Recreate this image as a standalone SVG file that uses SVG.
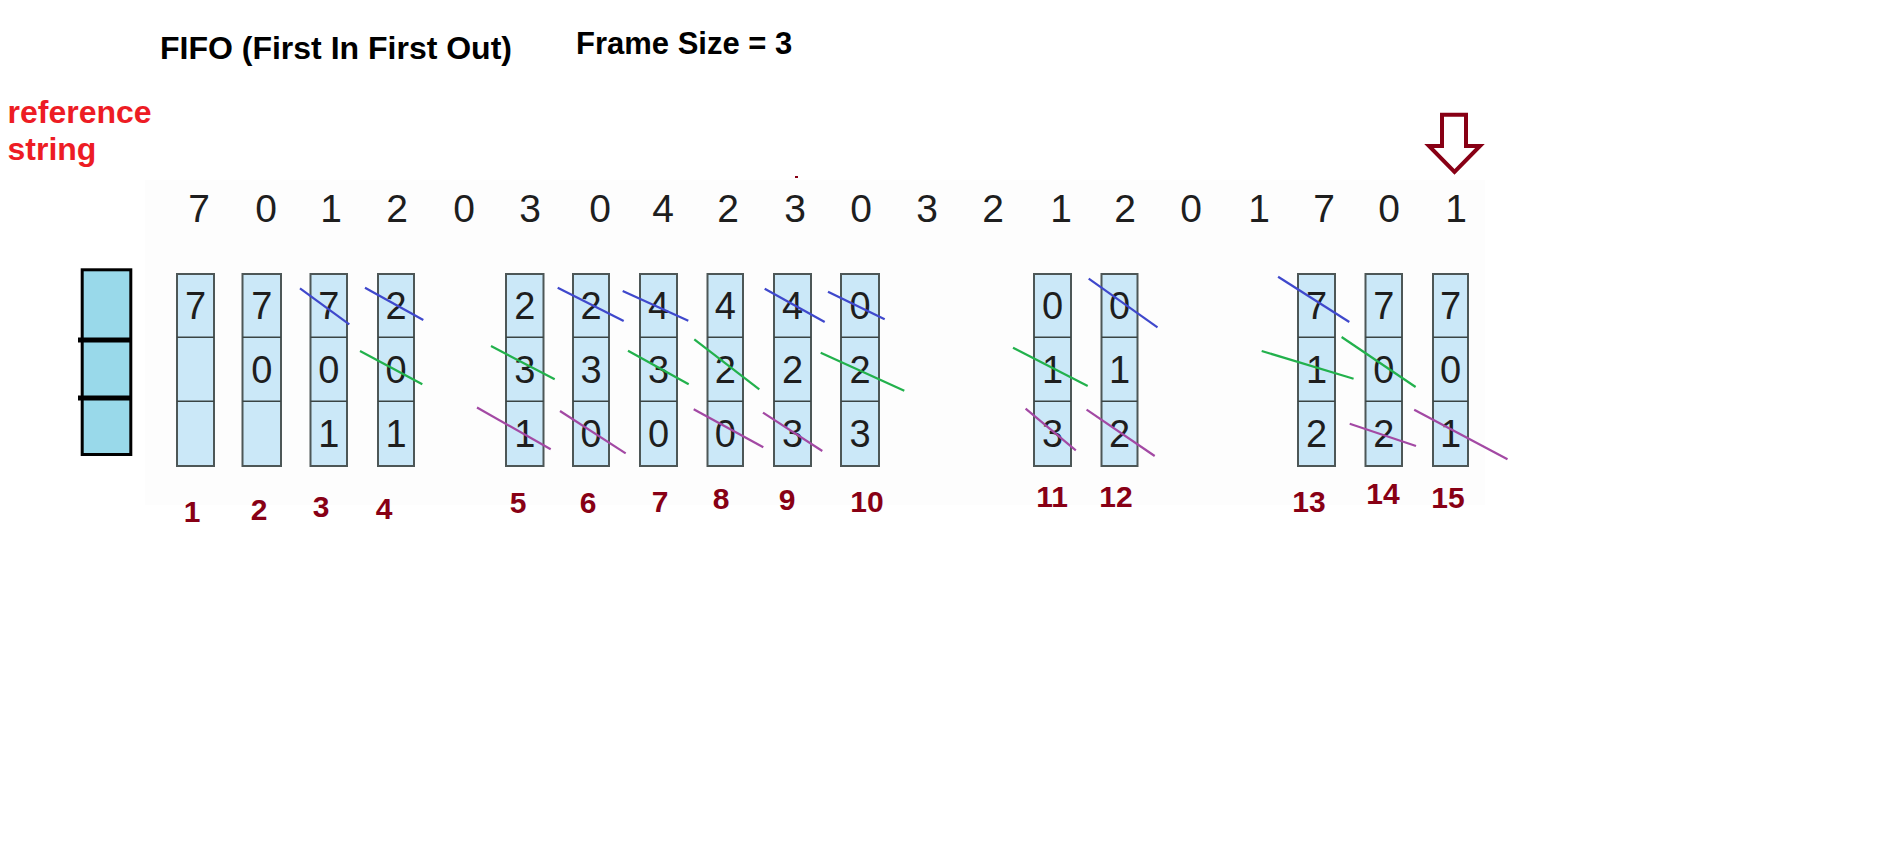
<svg xmlns="http://www.w3.org/2000/svg" width="1894" height="848" viewBox="0 0 1894 848">
<style>
.title{font-family:"Liberation Sans",Arial,sans-serif;font-weight:bold;fill:#000}
.red{font-family:"Liberation Sans",Arial,sans-serif;font-weight:bold;font-size:32px;fill:#ed1c24}
.ref{font-family:"Liberation Sans",Arial,sans-serif;font-size:39px;fill:#1e1e1e;text-anchor:middle}
.cell{fill:#cbe8f8;stroke:#4d5757;stroke-width:2}
.div{stroke:#3a4444;stroke-width:1.5}
.dig{font-family:"Liberation Sans",Arial,sans-serif;font-size:38px;fill:#1e1e1e;text-anchor:middle}
.lbl{font-family:"Liberation Sans",Arial,sans-serif;font-weight:bold;font-size:30px;fill:#880015;text-anchor:middle}
.b{stroke:#3f48cc;stroke-width:2.2;fill:none}
.g{stroke:#22b14c;stroke-width:2.2;fill:none}
.p{stroke:#a349a4;stroke-width:2.2;fill:none}
</style>
<rect width="1894" height="848" fill="#ffffff"/>
<rect x="145" y="180" width="1340" height="325" fill="#fdfdfd"/>
<text class="title" x="160" y="59" font-size="32">FIFO (First In First Out)</text>
<text class="title" x="576" y="54" font-size="31">Frame Size = 3</text>
<text class="red" x="7.5" y="123">reference</text>
<text class="red" x="7.5" y="160">string</text>
<rect x="795" y="176" width="3" height="2" fill="#880015"/>
<g id="arrow">
<path d="M1442,114.7 H1466 V146 H1480 L1454.5,172 L1429,146 H1442 Z" fill="#ffffff" stroke="#880015" stroke-width="4" stroke-linejoin="miter"/>
</g>
<g id="reference-string">
<text class="ref" x="199" y="222">7</text>
<text class="ref" x="266" y="222">0</text>
<text class="ref" x="331" y="222">1</text>
<text class="ref" x="397" y="222">2</text>
<text class="ref" x="464" y="222">0</text>
<text class="ref" x="530" y="222">3</text>
<text class="ref" x="600" y="222">0</text>
<text class="ref" x="663" y="222">4</text>
<text class="ref" x="728" y="222">2</text>
<text class="ref" x="795" y="222">3</text>
<text class="ref" x="861" y="222">0</text>
<text class="ref" x="927" y="222">3</text>
<text class="ref" x="993" y="222">2</text>
<text class="ref" x="1061" y="222">1</text>
<text class="ref" x="1125" y="222">2</text>
<text class="ref" x="1191" y="222">0</text>
<text class="ref" x="1259" y="222">1</text>
<text class="ref" x="1324" y="222">7</text>
<text class="ref" x="1389" y="222">0</text>
<text class="ref" x="1456" y="222">1</text>
</g>
<g id="legend">
<rect x="82.2" y="269.8" width="48.6" height="184.7" fill="#99d9ea" stroke="#000" stroke-width="3"/>
<line x1="78" y1="340" x2="132" y2="340" stroke="#000" stroke-width="5"/>
<line x1="78" y1="398" x2="132" y2="398" stroke="#000" stroke-width="5"/>
</g>
<g id="frame1">
<rect class="cell" x="177" y="274" width="37" height="192"/>
<line class="div" x1="177" y1="337.3" x2="214" y2="337.3"/><line class="div" x1="177" y1="401.3" x2="214" y2="401.3"/>
<text class="dig" x="195.5" y="319">7</text>
<text class="lbl" x="192" y="522">1</text>
</g>
<g id="frame2">
<rect class="cell" x="242.5" y="274" width="38.5" height="192"/>
<line class="div" x1="242.5" y1="337.3" x2="281" y2="337.3"/><line class="div" x1="242.5" y1="401.3" x2="281" y2="401.3"/>
<text class="dig" x="261.7" y="319">7</text>
<text class="dig" x="261.7" y="383">0</text>
<text class="lbl" x="259" y="520">2</text>
</g>
<g id="frame3">
<rect class="cell" x="310.5" y="274" width="36.5" height="192"/>
<line class="div" x1="310.5" y1="337.3" x2="347" y2="337.3"/><line class="div" x1="310.5" y1="401.3" x2="347" y2="401.3"/>
<text class="dig" x="328.7" y="319">7</text>
<text class="dig" x="328.7" y="383">0</text>
<text class="dig" x="328.7" y="447">1</text>
<text class="lbl" x="321" y="517">3</text>
</g>
<g id="frame4">
<rect class="cell" x="378" y="274" width="36" height="192"/>
<line class="div" x1="378" y1="337.3" x2="414" y2="337.3"/><line class="div" x1="378" y1="401.3" x2="414" y2="401.3"/>
<text class="dig" x="396" y="319">2</text>
<text class="dig" x="396" y="383">0</text>
<text class="dig" x="396" y="447">1</text>
<text class="lbl" x="384" y="519">4</text>
</g>
<g id="frame5">
<rect class="cell" x="506" y="274" width="37.5" height="192"/>
<line class="div" x1="506" y1="337.3" x2="543.5" y2="337.3"/><line class="div" x1="506" y1="401.3" x2="543.5" y2="401.3"/>
<text class="dig" x="524.7" y="319">2</text>
<text class="dig" x="524.7" y="383">3</text>
<text class="dig" x="524.7" y="447">1</text>
<text class="lbl" x="518" y="513">5</text>
</g>
<g id="frame6">
<rect class="cell" x="573" y="274" width="36" height="192"/>
<line class="div" x1="573" y1="337.3" x2="609" y2="337.3"/><line class="div" x1="573" y1="401.3" x2="609" y2="401.3"/>
<text class="dig" x="591" y="319">2</text>
<text class="dig" x="591" y="383">3</text>
<text class="dig" x="591" y="447">0</text>
<text class="lbl" x="588" y="513">6</text>
</g>
<g id="frame7">
<rect class="cell" x="640" y="274" width="37" height="192"/>
<line class="div" x1="640" y1="337.3" x2="677" y2="337.3"/><line class="div" x1="640" y1="401.3" x2="677" y2="401.3"/>
<text class="dig" x="658.5" y="319">4</text>
<text class="dig" x="658.5" y="383">3</text>
<text class="dig" x="658.5" y="447">0</text>
<text class="lbl" x="660" y="512">7</text>
</g>
<g id="frame8">
<rect class="cell" x="707.5" y="274" width="35.5" height="192"/>
<line class="div" x1="707.5" y1="337.3" x2="743" y2="337.3"/><line class="div" x1="707.5" y1="401.3" x2="743" y2="401.3"/>
<text class="dig" x="725.3" y="319">4</text>
<text class="dig" x="725.3" y="383">2</text>
<text class="dig" x="725.3" y="447">0</text>
<text class="lbl" x="721" y="509">8</text>
</g>
<g id="frame9">
<rect class="cell" x="774" y="274" width="37" height="192"/>
<line class="div" x1="774" y1="337.3" x2="811" y2="337.3"/><line class="div" x1="774" y1="401.3" x2="811" y2="401.3"/>
<text class="dig" x="792.5" y="319">4</text>
<text class="dig" x="792.5" y="383">2</text>
<text class="dig" x="792.5" y="447">3</text>
<text class="lbl" x="787" y="510">9</text>
</g>
<g id="frame10">
<rect class="cell" x="841" y="274" width="38" height="192"/>
<line class="div" x1="841" y1="337.3" x2="879" y2="337.3"/><line class="div" x1="841" y1="401.3" x2="879" y2="401.3"/>
<text class="dig" x="860" y="319">0</text>
<text class="dig" x="860" y="383">2</text>
<text class="dig" x="860" y="447">3</text>
<text class="lbl" x="867" y="512">10</text>
</g>
<g id="frame11">
<rect class="cell" x="1034" y="274" width="37" height="192"/>
<line class="div" x1="1034" y1="337.3" x2="1071" y2="337.3"/><line class="div" x1="1034" y1="401.3" x2="1071" y2="401.3"/>
<text class="dig" x="1052.5" y="319">0</text>
<text class="dig" x="1052.5" y="383">1</text>
<text class="dig" x="1052.5" y="447">3</text>
<text class="lbl" x="1052" y="507">11</text>
</g>
<g id="frame12">
<rect class="cell" x="1101.5" y="274" width="36" height="192"/>
<line class="div" x1="1101.5" y1="337.3" x2="1137.5" y2="337.3"/><line class="div" x1="1101.5" y1="401.3" x2="1137.5" y2="401.3"/>
<text class="dig" x="1119.5" y="319">0</text>
<text class="dig" x="1119.5" y="383">1</text>
<text class="dig" x="1119.5" y="447">2</text>
<text class="lbl" x="1116" y="507">12</text>
</g>
<g id="frame13">
<rect class="cell" x="1298" y="274" width="37" height="192"/>
<line class="div" x1="1298" y1="337.3" x2="1335" y2="337.3"/><line class="div" x1="1298" y1="401.3" x2="1335" y2="401.3"/>
<text class="dig" x="1316.5" y="319">7</text>
<text class="dig" x="1316.5" y="383">1</text>
<text class="dig" x="1316.5" y="447">2</text>
<text class="lbl" x="1309" y="512">13</text>
</g>
<g id="frame14">
<rect class="cell" x="1365.5" y="274" width="36.5" height="192"/>
<line class="div" x1="1365.5" y1="337.3" x2="1402" y2="337.3"/><line class="div" x1="1365.5" y1="401.3" x2="1402" y2="401.3"/>
<text class="dig" x="1383.7" y="319">7</text>
<text class="dig" x="1383.7" y="383">0</text>
<text class="dig" x="1383.7" y="447">2</text>
<text class="lbl" x="1383" y="504">14</text>
</g>
<g id="frame15">
<rect class="cell" x="1433" y="274" width="35" height="192"/>
<line class="div" x1="1433" y1="337.3" x2="1468" y2="337.3"/><line class="div" x1="1433" y1="401.3" x2="1468" y2="401.3"/>
<text class="dig" x="1450.5" y="319">7</text>
<text class="dig" x="1450.5" y="383">0</text>
<text class="dig" x="1450.5" y="447">1</text>
<text class="lbl" x="1448" y="508">15</text>
</g>
<g id="connectors">
<line class="b" x1="300" y1="288.3" x2="349.3" y2="324.3"/>
<line class="b" x1="365" y1="287.7" x2="423.3" y2="320"/>
<line class="g" x1="360" y1="351" x2="422.3" y2="384.3"/>
<line class="g" x1="491" y1="346" x2="554.7" y2="379.3"/>
<line class="p" x1="477" y1="407.5" x2="550.7" y2="449.3"/>
<line class="b" x1="557.7" y1="287.7" x2="623.7" y2="321"/>
<line class="p" x1="560" y1="411" x2="625.7" y2="453.3"/>
<line class="b" x1="622.7" y1="291" x2="688.3" y2="320.7"/>
<line class="g" x1="628" y1="350.7" x2="688.7" y2="384.3"/>
<line class="g" x1="694.3" y1="339.3" x2="759.3" y2="389.3"/>
<line class="p" x1="693.7" y1="409.3" x2="763.3" y2="447.3"/>
<line class="b" x1="764.7" y1="288.7" x2="824.7" y2="322"/>
<line class="p" x1="763" y1="412.7" x2="822.3" y2="451"/>
<line class="b" x1="828" y1="291.7" x2="884.7" y2="319.3"/>
<line class="g" x1="820.7" y1="352.7" x2="904.3" y2="390.7"/>
<line class="g" x1="1013" y1="347.7" x2="1087.7" y2="386"/>
<line class="p" x1="1025.6" y1="408.7" x2="1075.8" y2="450.3"/>
<line class="b" x1="1088.7" y1="278.7" x2="1157.5" y2="327.3"/>
<line class="p" x1="1086.6" y1="409.7" x2="1154.7" y2="456"/>
<line class="b" x1="1278.1" y1="276.7" x2="1349.3" y2="322"/>
<line class="g" x1="1261.7" y1="351" x2="1353.6" y2="378.7"/>
<line class="g" x1="1341.6" y1="337" x2="1415.6" y2="387"/>
<line class="p" x1="1349.7" y1="423.7" x2="1416" y2="446"/>
<line class="p" x1="1414.2" y1="409.7" x2="1507.5" y2="459.3"/>
</g>
</svg>
